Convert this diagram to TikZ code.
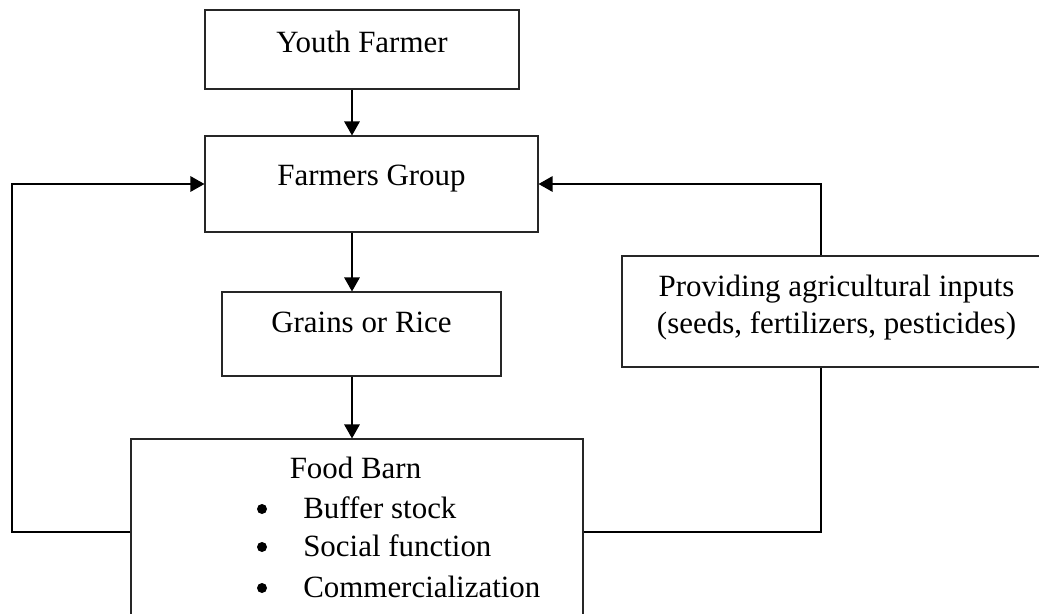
\documentclass[tikz,border=0pt]{standalone}
\usepackage{fontspec}
\setmainfont{Liberation Serif}
\usetikzlibrary{arrows.meta,fit}
\begin{document}
\begin{tikzpicture}[x=0.75pt,y=-0.75pt,
  box/.style={draw=black!85,line width=0.8pt,inner sep=0pt,rectangle},
  txt/.style={inner sep=0pt,font=\fontsize{23.2}{28}\selectfont},
  bullet/.style={circle,fill=black,inner sep=0pt,minimum size=7.5pt},
  conn/.style={draw=black,line width=1.4pt},
  arr/.style={conn,-{Triangle[width=11.5pt,length=10.5pt]}}]
\useasboundingbox (0,0) rectangle (1039,614);
\clip (0,0) rectangle (1039,614);
% boxes
\node[box,fit={(205,10) (519,89)}] (yf) {};
\node[box,fit={(205,136) (538,232)}] (fg) {};
\node[box,fit={(222,292) (501,376)}] (gr) {};
\node[box,fit={(622,256) (1051,367)}] (pr) {};
\node[box,fit={(131,439) (583,625)}] (fb) {};
% texts
\node[txt,anchor=base] (yft) at (362,52) {Youth Farmer};
\node[txt,anchor=base] (fgt) at (371.5,185) {Farmers Group};
\node[txt,anchor=base] (grt) at (361.5,332) {Grains or Rice};
\node[txt,anchor=base] (prt1) at (836.5,296) {Providing agricultural inputs};
\node[txt,anchor=base] (prt2) at (836.5,333) {(seeds, fertilizers, pesticides)};
\node[txt,anchor=base] (fbt) at (355.5,478) {Food Barn};
\node[bullet] (bl1) at (262,509) {};
\node[bullet] (bl2) at (262,547) {};
\node[bullet] (bl3) at (262,588) {};
\node[txt,anchor=base west] (it1) at (303,518) {Buffer stock};
\node[txt,anchor=base west] (it2) at (303,556) {Social function};
\node[txt,anchor=base west] (it3) at (303,597) {Commercialization};
% connector columns
\coordinate (c1) at (352,0);
\coordinate (c2) at (821,0);
\coordinate (c3) at (12,0);
% connectors
\draw[arr] (yf.south -| c1) -- (fg.north -| c1);
\draw[arr] (fg.south -| c1) -- (gr.north -| c1);
\draw[arr] (gr.south -| c1) -- (fb.north -| c1);
\draw[arr] (fb.west) -- (fb.west -| c3) -- (fg.west -| c3) -- (fg.west);
\draw[conn] (fb.east) -- (fb.east -| c2) -- (pr.south -| c2);
\draw[arr] (pr.north -| c2) -- (fg.east -| c2) -- (fg.east);
\end{tikzpicture}
\end{document}
